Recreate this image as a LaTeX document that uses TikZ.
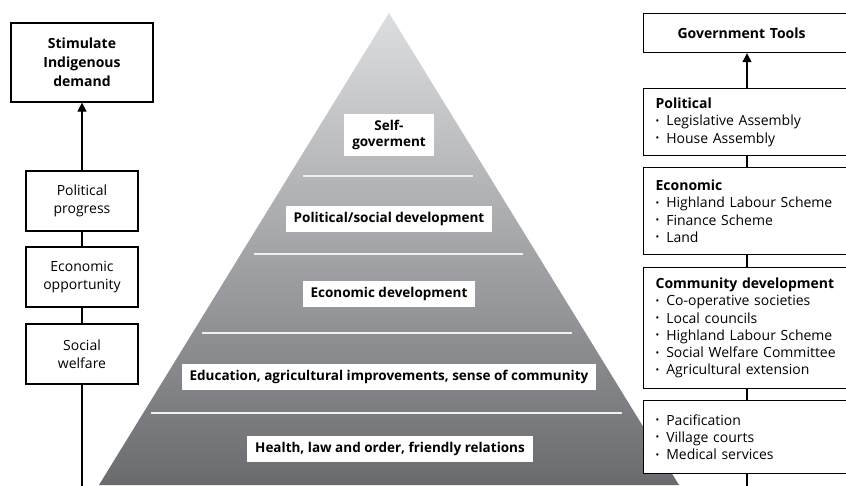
\documentclass[tikz,border=0pt]{standalone}
\usepackage{fontspec}
\setmainfont{Open Sans}
\usetikzlibrary{arrows.meta}
\definecolor{pyrtop}{RGB}{221,222,224}
\definecolor{pyrbottom}{RGB}{106,107,111}
\newcommand\bul{\raisebox{0.2ex}{\scalebox{0.7}{\textbullet}}\hspace{0.5em}}
\begin{document}
\begin{tikzpicture}[x=1pt,y=-1pt,
  box/.style={draw, line width=1.2pt, fill=white, align=center, inner sep=0pt,
    font=\fontsize{14}{17.5}\selectfont},
  tool/.style={draw, line width=1.2pt, fill=white, align=left, text width=196pt,
    inner xsep=12pt, inner ysep=0pt, anchor=north west,
    font=\fontsize{14}{17.3}\selectfont},
  tier/.style={fill=white, font=\bfseries\fontsize{13.5}{16}\selectfont,
    inner xsep=8pt, inner ysep=6pt, align=center},
  link/.style={line width=1.2pt},
  tip/.style={-{Triangle[width=9pt,length=9pt]}},
  sep/.style={draw=white!88!gray, line width=1.5pt}]
\path[use as bounding box] (0,0) rectangle (846,485);
\clip (0,0) rectangle (846,485);

% pyramid
\coordinate (apex) at (389,13);
\coordinate (bl) at (99,485);
\coordinate (br) at (679,485);
\shade[top color=pyrtop, bottom color=pyrbottom] (apex) -- (br) -- (bl) -- cycle;
\draw[sep] (303,176) -- (473,176);
\draw[sep] (254,254) -- (523,254);
\draw[sep] (202,333) -- (572,333);
\draw[sep] (151,413) -- (622,413);

\node[tier] (t5) at (389,135) {Self-\\goverment};
\node[tier] (t4) at (389,219) {Political/social development};
\node[tier] (t3) at (389,294) {Economic development};
\node[tier] (t2) at (389,377) {Education, agricultural improvements, sense of community};
\node[tier] (t1) at (390,449) {Health, law and order, friendly relations};

% left column
\node[box, font=\bfseries\fontsize{14}{19}\selectfont, minimum width=142pt, minimum height=79pt]
  (sti) at (82,62.5) {Stimulate\\Indigenous\\demand};
\node[box, minimum width=112pt, minimum height=60pt] (pp) at (82,201) {Political\\progress};
\node[box, minimum width=112pt, minimum height=60pt] (eo) at (82,277) {Economic\\opportunity};
\node[box, minimum width=112pt, minimum height=60pt] (sw) at (82,354) {Social\\welfare};
\coordinate (lend) at (82,490);
\draw[link, tip] (pp.north) -- (sti.south);
\draw[link] (eo.north) -- (pp.south);
\draw[link] (sw.north) -- (eo.south);
\draw[link] (sw.south) -- (lend);

% right column
\node[tool, minimum height=39pt, font=\bfseries\fontsize{14}{17}\selectfont]
  (gov) at (643,13) {\hspace*{22pt}Government Tools};
\node[tool, minimum height=67pt] (pol) at (643,88)
  {\textbf{Political}\\\bul Legislative Assembly\\\bul House Assembly};
\node[tool, minimum height=87pt] (eco) at (643,167)
  {\textbf{Economic}\\\bul Highland Labour Scheme\\\bul Finance Scheme\\\bul Land};
\node[tool, minimum height=121pt] (com) at (643,267)
  {\textbf{Community development}\\\bul Co-operative societies\\\bul Local councils\\
   \bul Highland Labour Scheme\\\bul Social Welfare Committee\\\bul Agricultural extension};
\node[tool, minimum height=73pt] (pac) at (643,400)
  {\bul Pacification\\\bul Village courts\\\bul Medical services};
\coordinate (rx) at (747,0);
\coordinate (rend) at (747,490);
\draw[link, tip] (pol.north -| rx) -- (gov.south -| rx);
\draw[link] (eco.north -| rx) -- (pol.south -| rx);
\draw[link] (com.north -| rx) -- (eco.south -| rx);
\draw[link] (pac.north -| rx) -- (com.south -| rx);
\draw[link] (pac.south -| rx) -- (rend);
\end{tikzpicture}
\end{document}
